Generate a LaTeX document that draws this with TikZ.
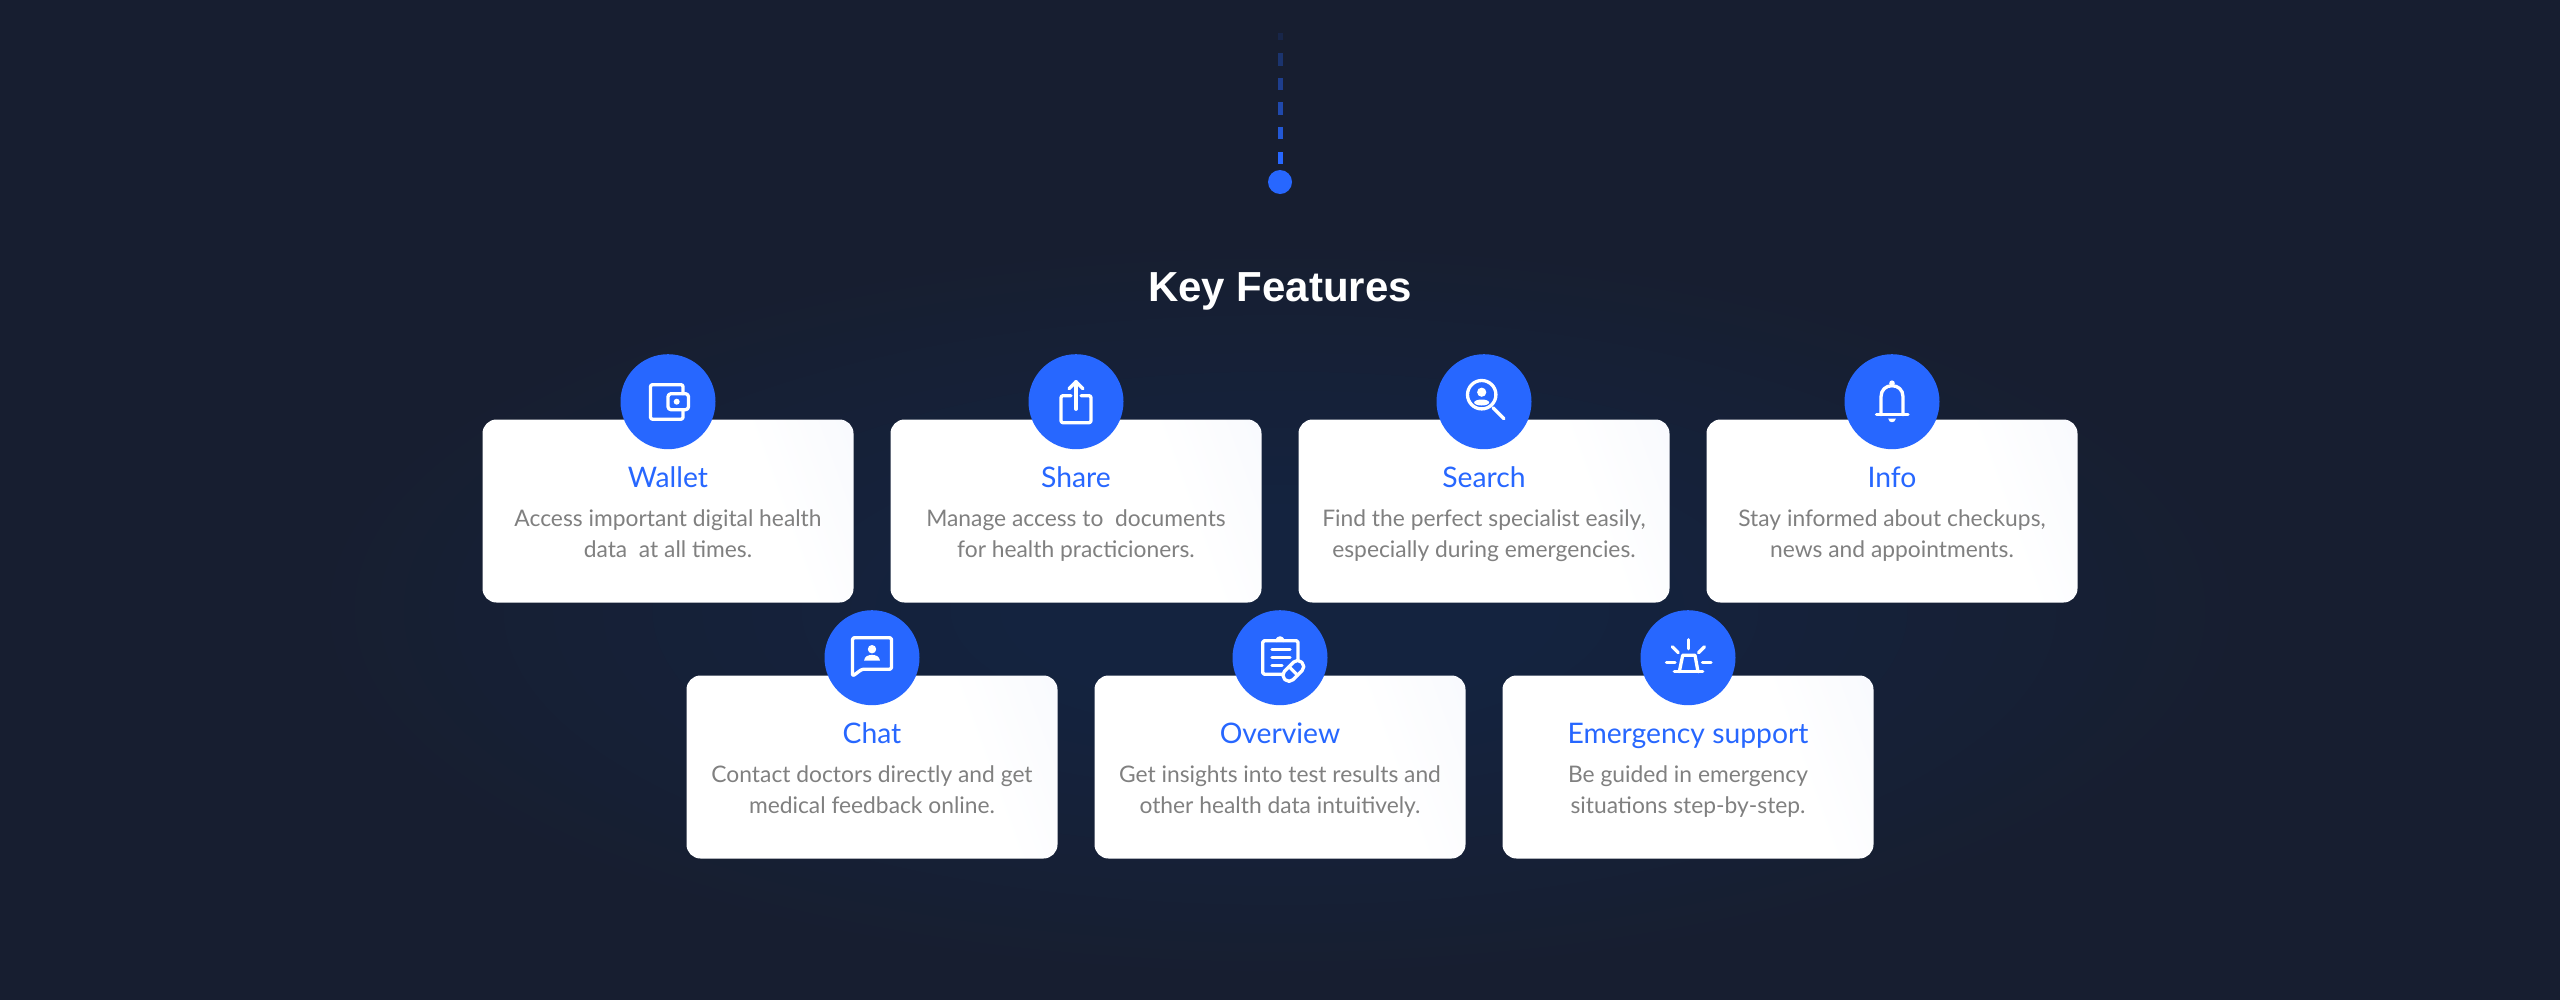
\documentclass[tikz,border=0pt]{standalone}
\usepackage{fontspec}
\setmainfont{Lato}
\newfontfamily\headfont{Liberation Sans}
\usetikzlibrary{calc}
\definecolor{bgc}{HTML}{171E30}
\definecolor{glowc}{HTML}{14233F}
\definecolor{bluec}{HTML}{2767FF}
\definecolor{greyc}{HTML}{808080}
\definecolor{edgec}{HTML}{F1F4FC}
\pgfdeclarehorizontalshading{cardshade}{100bp}{color(0bp)=(white); color(66bp)=(white); color(100bp)=(edgec)}
\tikzset{
  cardbox/.style={shade,shading=cardshade,shading angle=20,rounded corners=14pt,minimum width=371pt,minimum height=183pt,inner sep=0pt},
  iconball/.style={circle,fill=bluec,minimum size=95pt,inner sep=0pt},
  titletext/.style={anchor=base,text=bluec,inner sep=0pt,font=\fontsize{28.3pt}{30pt}\selectfont},
  desctext/.style={anchor=base,text=greyc,inner sep=0pt,font=\fontsize{22.8pt}{28pt}\selectfont},
  headtext/.style={anchor=base,text=white,inner sep=0pt,font=\headfont\bfseries\fontsize{42pt}{50pt}\selectfont},
  dashseg/.style={line width=5pt,bluec},
  ico/.style={draw=white,line width=3.3pt,line cap=round,line join=round},
  icofill/.style={fill=white,draw=none}
}
\newcommand{\featcard}[6]{%
  \node[cardbox] (card#1) at (#2,#3+91.5) {};
  \node[iconball] (ball#1) at (#2,#3-17.8) {};
  \node[titletext] (title#1) at (#2,#3+67.5) {#4};
  \node[desctext] (desca#1) at (#2,#3+107) {#5};
  \node[desctext] (descb#1) at (#2,#3+138) {#6};
}
\begin{document}
\begin{tikzpicture}[x=1pt,y=-1pt]
\useasboundingbox (0,0) rectangle (2560,999);
\fill[bgc] (-3,-3) rectangle (2563,1002);
\foreach \i in {0,...,29}{
  \pgfmathsetmacro{\t}{\i/29}
  \pgfmathsetmacro{\rr}{1-0.72*\t}
  \pgfmathsetmacro{\pc}{100*\t}
  \fill[glowc!\pc!bgc] (1280,610) ellipse [x radius=\rr*1000,y radius=\rr*380];
}

\node[circle,fill=bluec,minimum size=24pt,inner sep=0pt] (dot) at (1280,182) {};
\foreach \a/\b/\o in {149/142/0.12,129/116.5/0.3,104/92/0.45,80/67/0.6,55/43/0.8,30/18/1}{
  \draw[dashseg,opacity=\o] ([yshift=\a pt]dot.center) -- ([yshift=\b pt]dot.center);
}
\node[headtext] (heading) at (1280,301) {Key Features};

\featcard{A}{668}{419.5}{Wallet}{Access important digital health}{data\ \ at all times.}
\featcard{B}{1076}{419.5}{Share}{Manage access to\ \ documents}{for health practicioners.}
\featcard{C}{1484}{419.5}{Search}{Find the perfect specialist easily,}{especially during emergencies.}
\featcard{D}{1892}{419.5}{Info}{Stay informed about checkups,}{news and appointments.}
\featcard{E}{872}{675.5}{Chat}{Contact doctors directly and get}{medical feedback online.}
\featcard{F}{1280}{675.5}{Overview}{Get insights into test results and}{other health data intuitively.}
\featcard{G}{1688}{675.5}{Emergency support}{Be guided in emergency}{situations step-by-step.}

% wallet
\begin{scope}[shift={(ballA.center)}]
  \draw[ico,rounded corners=2pt] (15,-8) -- (15,-17) -- (-17.5,-17) -- (-17.5,17.5) -- (15,17.5) -- (15,8);
  \draw[ico,rounded corners=3pt] (0,-8) rectangle (20.5,8);
  \fill[icofill] (8.7,0) circle (3pt);
\end{scope}
% share
\begin{scope}[shift={(ballB.center)}]
  \draw[ico,rounded corners=2pt] (-5,-6) -- (-15,-6) -- (-15,21) -- (15,21) -- (15,-6) -- (5,-6);
  \draw[ico] (0,7.5) -- (0,-20);
  \draw[ico] (-7,-13) -- (0,-20) -- (7,-13);
\end{scope}
% search
\begin{scope}[shift={(ballC.center)}]
  \draw[ico] (-2.3,-7) circle (14.2pt);
  \draw[ico] (9,6) -- (20,17);
  \fill[icofill] (-2.3,-9.5) circle (4.6pt);
  \fill[icofill] (-2.3,0.8) ellipse [x radius=7.5pt,y radius=3pt];
\end{scope}
% bell
\begin{scope}[shift={(ballD.center)}]
  \draw[ico] (-11,13) -- (-11,-5) .. controls (-11,-12) and (-6,-16) .. (0,-16) .. controls (6,-16) and (11,-12) .. (11,-5) -- (11,13);
  \draw[ico] (-15.5,13) -- (16,13);
  \fill[icofill] (0,-18.5) circle (2.8pt);
  \fill[icofill] (-3.8,17) -- (3.8,17) .. controls (3.5,19.5) and (1.5,20.5) .. (0,20.5) .. controls (-1.5,20.5) and (-3.5,19.5) .. (-3.8,17) -- cycle;
\end{scope}
% chat
\begin{scope}[shift={(ballE.center)}]
  \draw[ico,rounded corners=1.5pt] (-19.5,18.5) -- (-19.5,-20) -- (19.5,-20) -- (19.5,11.5) -- (-10,11.5) -- cycle;
  \fill[icofill] (0,-8.5) circle (4.2pt);
  \fill[icofill] (-8,3) .. controls (-7.5,-1.5) and (-3.5,-2.8) .. (0,-2.8) .. controls (3.5,-2.8) and (7.5,-1.5) .. (8,3) -- cycle;
\end{scope}
% overview
\begin{scope}[shift={(ballF.center)}]
  \draw[ico,rounded corners=1.5pt] (3,16.5) -- (-17.3,16.5) -- (-17.3,-17) -- (18,-17) -- (18,3);
  \draw[ico] (-2.8,-17) arc[start angle=180,end angle=0,radius=2.8pt];
  \draw[ico] (-8,-8.5) -- (10,-8.5);
  \draw[ico] (-8,0) -- (10,0);
  \draw[ico] (-8,8) -- (2,8);
  \begin{scope}[shift={(13.3,13.2)},rotate=45]
    \fill[bluec,rounded corners=5.5pt] (-12,-6) rectangle (12,6);
    \draw[ico,rounded corners=5.5pt] (-12,-6) rectangle (12,6);
    \draw[ico] (0,-6) -- (0,6);
  \end{scope}
\end{scope}
% alarm
\begin{scope}[shift={(ballG.center)}]
  \draw[ico] (0.5,-18) -- (0.5,-9);
  \draw[ico] (-15.7,-11) -- (-9.7,-5);
  \draw[ico] (16.5,-11) -- (10.5,-5);
  \draw[ico] (-21.5,4.5) -- (-13,4.5);
  \draw[ico] (14.5,4.5) -- (23,4.5);
  \draw[ico] (-13.7,14) -- (14.7,14);
  \draw[ico] (-8.7,14) -- (-5.3,-2.5) -- (7,-2.5) -- (10,14);
\end{scope}
\end{tikzpicture}
\end{document}
